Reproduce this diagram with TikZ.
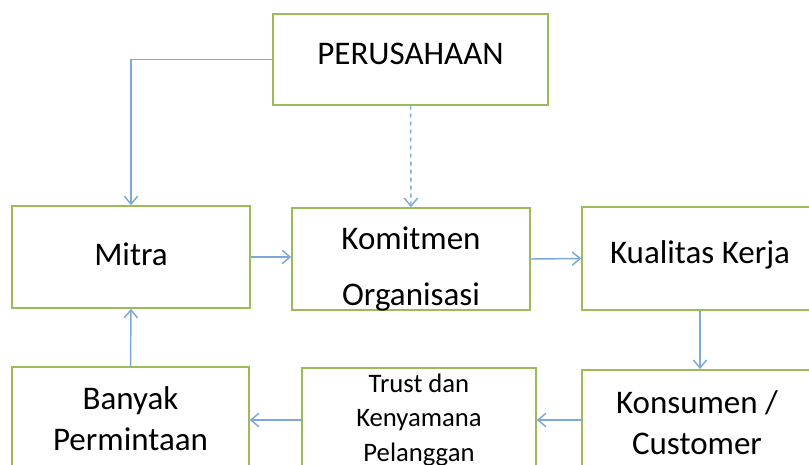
\documentclass[tikz,border=0pt]{standalone}
\usepackage{fontspec}
\setmainfont{Carlito}
\usetikzlibrary{arrows.meta}
\definecolor{boxgreen}{RGB}{155,187,89}
\definecolor{arrowblue}{RGB}{125,168,215}
\begin{document}
\begin{tikzpicture}[x=0.75pt,y=-0.75pt,
    box/.style={draw=boxgreen,line width=1.1pt,inner sep=0pt,align=center,
      font=\fontsize{24.75}{31}\selectfont},
    arr/.style={draw=arrowblue,line width=1.1pt,-{Straight Barb[length=6pt,width=10pt]}}]
  \clip (0,0) rectangle (809,464);
  % top row
  \node[box,minimum width=206pt,minimum height=68pt,text height=12pt,text depth=4pt]
    (perusahaan) at (410.5,59.5) {PERUSAHAAN};
  \node[box,minimum width=178.5pt,minimum height=76.5pt,text height=15pt,text depth=3pt]
    (mitra) at (131,257) {Mitra};
  \node[box,minimum width=178.5pt,minimum height=76.5pt,font=\fontsize{24.75}{42}\selectfont,
    text height=72pt,text depth=3pt] (komitmen) at (411,259) {Komitmen\\Organisasi};
  \node[box,minimum width=177pt,minimum height=77pt,text height=12pt,text depth=5pt]
    (kualitas) at (700,258.5) {Kualitas Kerja};
  % bottom row
  \node[box,minimum width=177.75pt,minimum height=77pt] (banyak) at (130.5,418.5) {Banyak\\Permintaan};
  \node[box,minimum width=175.5pt,minimum height=78pt,font=\fontsize{20}{26}\selectfont]
    (trust) at (419,420) {Trust dan\\Kenyamana\\Pelanggan};
  \node[box,minimum width=172.5pt,minimum height=79pt] (konsumen) at (697,422.5) {Konsumen /\\Customer};
  % arrows
  \draw[arr] (perusahaan.west) -| (mitra.north);
  \draw[arr,dashed] (perusahaan.south) -- (komitmen.north);
  \draw[arr] (mitra.east) -- (mitra.east -| komitmen.west);
  \draw[arr] (komitmen.east) -- (kualitas.west);
  \draw[arr] (kualitas.south) -- (kualitas.south |- konsumen.north);
  \draw[arr] (konsumen.west |- trust.east) -- (trust.east);
  \draw[arr] (trust.west) -- (trust.west -| banyak.east);
  \draw[arr] (banyak.north) -- (mitra.south);
\end{tikzpicture}
\end{document}
